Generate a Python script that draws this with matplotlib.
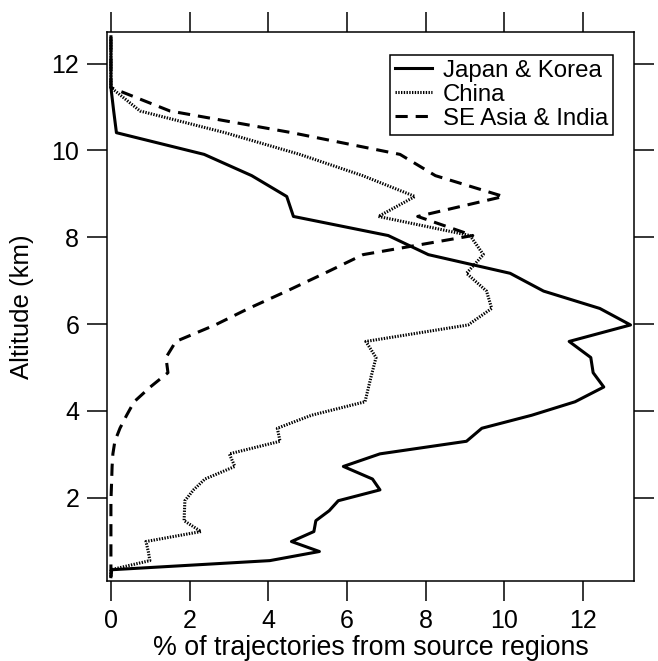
import matplotlib
matplotlib.use('Agg')
import matplotlib.pyplot as plt

plt.rcParams['font.family'] = ['Liberation Sans', 'DejaVu Sans']

# altitude levels (km) shared by the three profiles
alt_km = [0.18, 0.34, 0.55, 0.76, 0.99, 1.22, 1.47, 1.70, 1.93, 2.18, 2.43, 2.72,
          3.01, 3.30, 3.60, 3.90, 4.21, 4.55, 4.88, 5.23, 5.60, 5.98, 6.36, 6.76,
          7.17, 7.60, 8.04, 8.48, 8.94, 9.42, 9.91, 10.41, 10.91, 11.45, 11.92,
          12.41, 12.62]

japan_korea = [0, 0.02, 4.04, 5.30, 4.59, 5.16, 5.21, 5.55, 5.78, 6.84, 6.65, 5.91,
               6.84, 9.04, 9.43, 10.7, 11.8, 12.53, 12.26, 12.2, 11.65, 13.21, 12.43, 11.0,
               10.15, 8.07, 7.05, 4.64, 4.47, 3.58, 2.37, 0.14, 0.07, 0, 0,
               0, 0]

china = [0, 0, 0.99, 0.95, 0.89, 2.29, 1.86, 1.87, 1.88, 2.1, 2.39, 3.15,
         3.01, 4.3, 4.23, 5.1, 6.46, 6.55, 6.64, 6.74, 6.48, 9.08, 9.68, 9.55,
         9.04, 9.47, 9.13, 6.8, 7.73, 6.4, 4.8, 2.9, 0.74, 0, 0,
         0, 0]

se_asia_india = [0, 0, 0, 0, 0, 0, 0, 0, 0, 0.01, 0.02, 0.03,
                 0.05, 0.1, 0.23, 0.4, 0.59, 1.0, 1.45, 1.4, 1.65, 2.65, 3.5, 4.47,
                 5.43, 6.41, 9.2, 7.8, 9.98, 8.25, 7.35, 4.6, 1.5, 0, 0,
                 0, 0]

labels = ['Japan & Korea', 'China', 'SE Asia & India']
xticks = [0, 2, 4, 6, 8, 10, 12]
yticks = [2, 4, 6, 8, 10, 12]

fig = plt.figure(figsize=(6.58, 6.61), dpi=100)
ax = fig.add_axes([0.1626, 0.121, 0.801, 0.8306])

lw = 2.2
ax.plot(japan_korea, alt_km, color='k', lw=lw, ls='-', label=labels[0])
ax.plot(china, alt_km, color='k', lw=lw, ls=(0, (0.45, 0.45)), label=labels[1])
ax.plot(se_asia_india, alt_km, color='k', lw=lw, ls=(0, (4, 2.6)), label=labels[2])

ax.set_xlim(-0.1, 13.3)
ax.set_ylim(0.08, 12.73)
ax.set_xticks(xticks)
ax.set_yticks(yticks)
ax.tick_params(direction='out', length=14.4, width=1.1, labelsize=18,
               top=True, right=True, pad=5.5, color='k')
for s in ax.spines.values():
    s.set_linewidth(1.1)

ax.set_xlabel('% of trajectories from source regions', fontsize=19.3)
ax.set_ylabel('Altitude (km)', fontsize=18.5)
ax.xaxis.set_label_coords(0.5, -0.098)
ax.yaxis.set_label_coords(-0.138, 0.5)
ax.xaxis.label.set_va('top')

leg = ax.legend(loc='upper right', bbox_to_anchor=(0.960, 0.958), borderaxespad=0,
                fontsize=17.3, frameon=True, fancybox=False, shadow=False,
                handlelength=1.55, handletextpad=0.45, labelspacing=0.08,
                borderpad=0.2)
leg.get_frame().set_edgecolor('k')
leg.get_frame().set_linewidth(1.1)
leg.get_frame().set_alpha(1)

fig.savefig('out.png', dpi=100)
